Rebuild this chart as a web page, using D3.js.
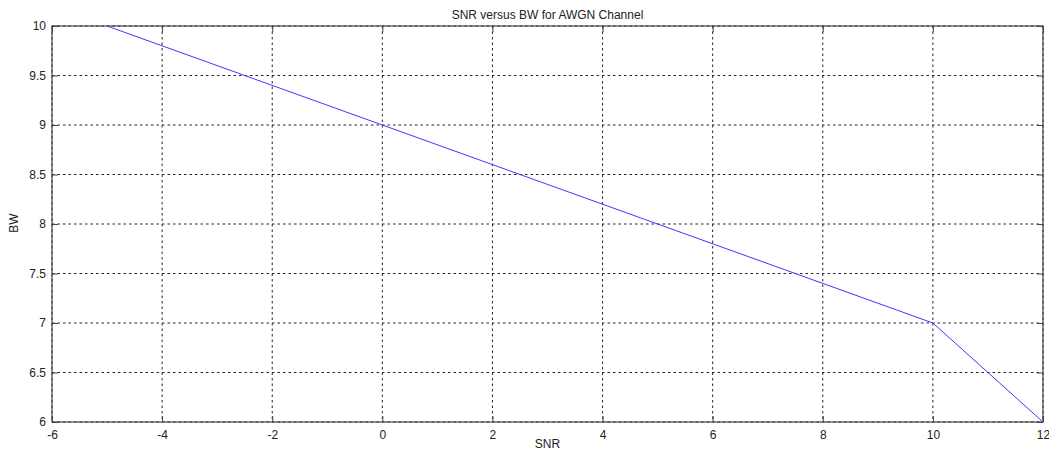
<!DOCTYPE html>
<html>
<meta charset="utf-8">
<script src="https://d3js.org/d3.v7.min.js"></script>
<style>
  body { margin: 0; background: #fff; }
  text { font-family: "Liberation Sans", Arial, sans-serif; fill: #222; }
</style>
<body>
<div id="my_dataviz"></div>
<script>
// data
var snr = [-5, 0, 10, 12];
var bw = [10, 9, 7, 6];
var xTicks = [-6, -4, -2, 0, 2, 4, 6, 8, 10, 12];
var yTicks = [6, 6.5, 7, 7.5, 8, 8.5, 9, 9.5, 10];

var W = 1049, H = 453;
var margin = {top: 26, right: 6, bottom: 31, left: 52},
    width = W - margin.left - margin.right,
    height = H - margin.top - margin.bottom;

var svg = d3.select("#my_dataviz")
  .append("svg")
    .attr("width", W)
    .attr("height", H)
  .append("g")
    .attr("transform", "translate(" + margin.left + "," + margin.top + ")");

var x = d3.scaleLinear().domain([-6, 12]).range([0, width]);
var y = d3.scaleLinear().domain([6, 10]).range([height, 0]);

// dotted grid
svg.append("g").selectAll("line")
  .data(xTicks).enter().append("line")
    .attr("x1", function(d) { return x(d); })
    .attr("x2", function(d) { return x(d); })
    .attr("y1", 0).attr("y2", height)
    .attr("stroke", "#222").attr("stroke-width", 1)
    .attr("stroke-dasharray", "2.5,3");
svg.append("g").selectAll("line")
  .data(yTicks).enter().append("line")
    .attr("x1", 0).attr("x2", width)
    .attr("y1", function(d) { return y(d); })
    .attr("y2", function(d) { return y(d); })
    .attr("stroke", "#222").attr("stroke-width", 1)
    .attr("stroke-dasharray", "2.5,3");

// axes, ticks pointing inward like matlab
function styleAxis(g) {
  g.select(".domain").remove();
  g.selectAll("line").attr("stroke", "#444");
  g.selectAll("text").style("font-size", "12px").attr("fill", "#222");
}
// plain hyphen for negatives, like the original
var fmt = function(d) { return String(d); };
svg.append("g")
  .attr("transform", "translate(0," + height + ")")
  .call(d3.axisBottom(x).tickValues(xTicks).tickSizeInner(-6).tickPadding(8).tickFormat(fmt))
  .call(styleAxis);
svg.append("g")
  .call(d3.axisTop(x).tickValues(xTicks).tickSizeInner(-6).tickFormat(""))
  .call(styleAxis);
svg.append("g")
  .call(d3.axisLeft(y).tickValues(yTicks).tickSizeInner(-6).tickPadding(6).tickFormat(fmt))
  .call(styleAxis);
svg.append("g")
  .attr("transform", "translate(" + width + ",0)")
  .call(d3.axisRight(y).tickValues(yTicks).tickSizeInner(-6).tickFormat(""))
  .call(styleAxis);

// box
svg.append("rect")
  .attr("width", width).attr("height", height)
  .attr("fill", "none").attr("stroke", "#444").attr("stroke-width", 1.2);

// line
var line = d3.line()
  .x(function(d, i) { return x(snr[i]); })
  .y(function(d) { return y(d); });
svg.append("path")
  .datum(bw)
  .attr("fill", "none")
  .attr("stroke", "#3a3aff")
  .attr("stroke-width", 1)
  .attr("d", line);

// labels
svg.append("text")
  .attr("x", width / 2).attr("y", -7)
  .attr("text-anchor", "middle")
  .style("font-size", "12px")
  .text("SNR versus BW for AWGN Channel");
svg.append("text")
  .attr("x", width / 2).attr("y", height + 26)
  .attr("text-anchor", "middle")
  .style("font-size", "12px")
  .text("SNR");
svg.append("text")
  .attr("transform", "rotate(-90)")
  .attr("x", -height / 2 + 1).attr("y", -34)
  .attr("text-anchor", "middle")
  .style("font-size", "12px")
  .text("BW");
</script>
</body>
</html>
